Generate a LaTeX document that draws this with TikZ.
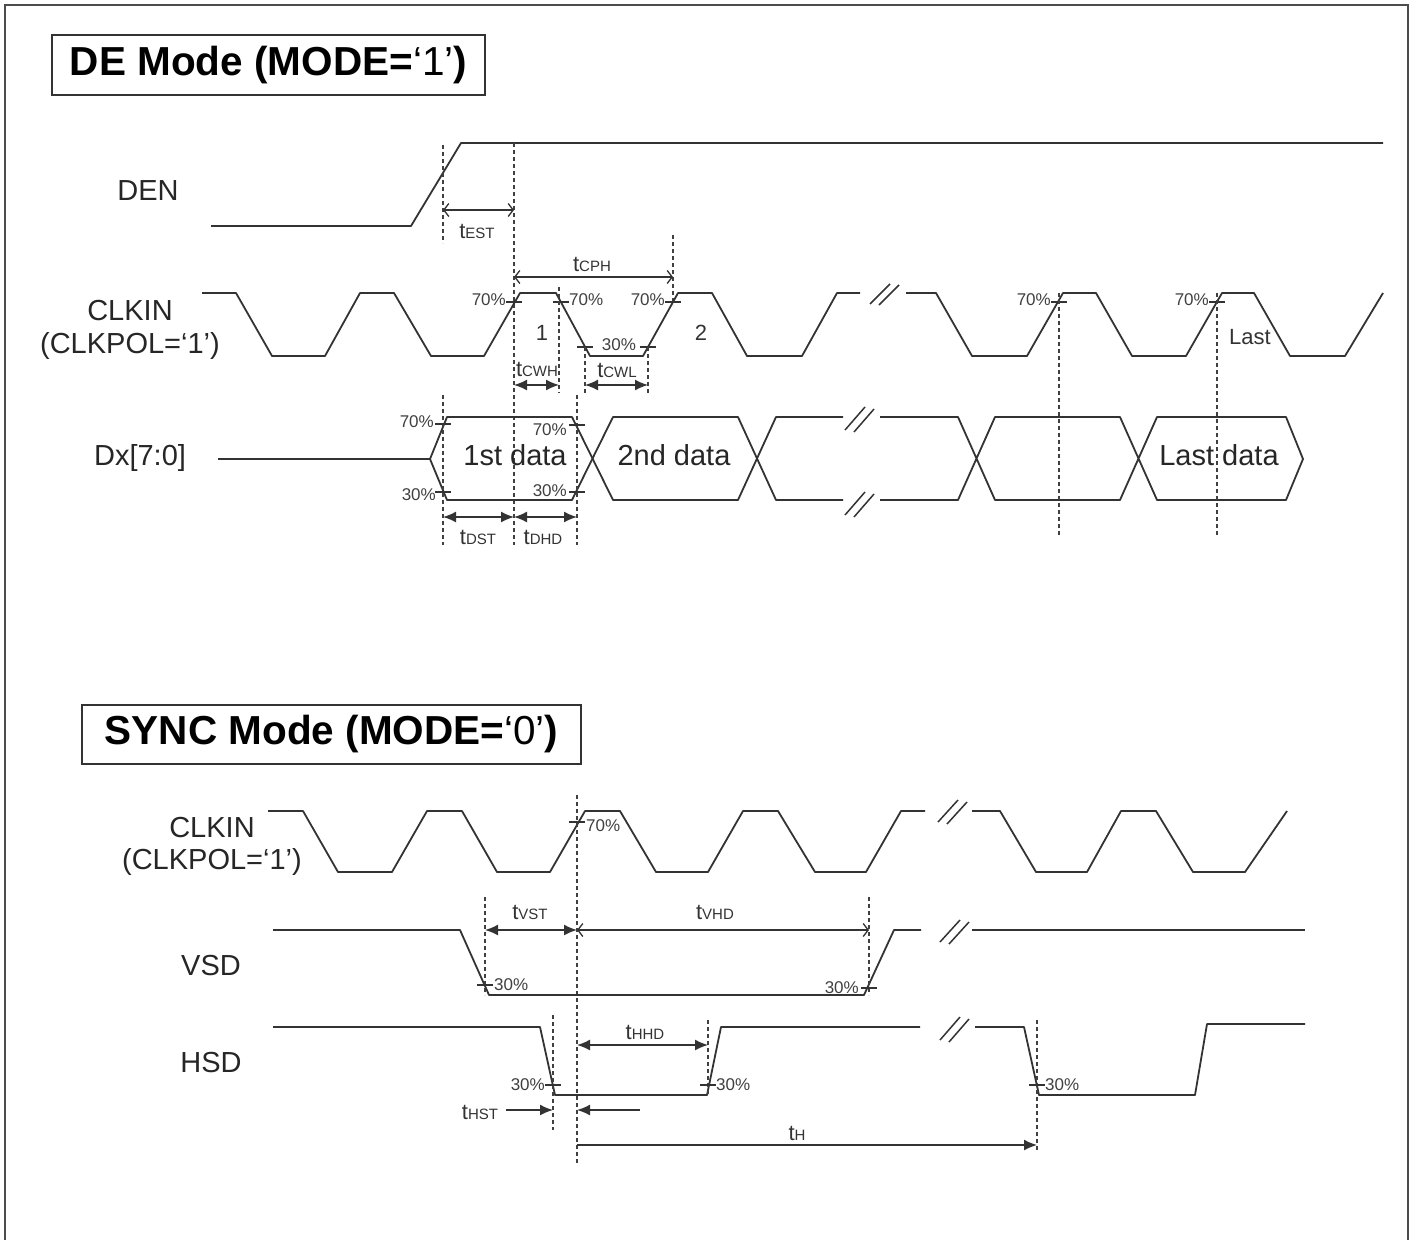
\documentclass[tikz,border=0pt]{standalone}
\usepackage{fontspec}
\setmainfont{Liberation Sans}
\usetikzlibrary{arrows.meta}
\newcommand\tsub[1]{t{\fontsize{15}{18}\selectfont #1}}
\begin{document}
\begin{tikzpicture}[x=1pt,y=-1pt,
  sig/.style={line width=1.8pt, draw=black!80, line join=round},
  guide/.style={line width=1.3pt, draw=black!75, dash pattern=on 4pt off 3pt},
  tickm/.style={line width=1.2pt, draw=black!80},
  fdim/.style={line width=1.5pt, draw=black!80, {Latex[length=13pt,width=11pt]}-{Latex[length=13pt,width=11pt]}},
  odim/.style={line width=1.3pt, draw=black!80, {Straight Barb[length=5pt,width=13pt]}-{Straight Barb[length=5pt,width=13pt]}},
  harr/.style={line width=1.5pt, draw=black!80, -{Latex[length=13pt,width=11pt]}},
  lbl/.style={font=\fontsize{29}{34}\selectfont, text=black!85, inner sep=0pt},
  pct/.style={font=\fontsize{17}{20}\selectfont, text=black!75, inner sep=0pt},
  tlbl/.style={font=\fontsize{22}{26}\selectfont, text=black!80, inner sep=0pt},
  brk/.style={line width=1.5pt, draw=black!80},
  ttl/.style={draw=black!80, line width=1.8pt, font=\bfseries\fontsize{40.5}{46}\selectfont, text=black, inner sep=0pt}
]
\useasboundingbox (0,0) rectangle (1412,1239);
\draw[line width=2pt, black!70] (5,1260) -- (5,5) -- (1408,5) -- (1408,1260);

% ---------------- titles
\node[ttl, minimum width=433pt, minimum height=60pt] (title1) at (268.5,65) {DE Mode (MODE=\mdseries‘1’\bfseries)};
\node[ttl, minimum width=499pt, minimum height=59pt] (title2) at (331.5,734.5) {SYNC Mode (MODE=\mdseries‘0’\bfseries)};

% ---------------- DE mode labels
\node[lbl] (den) at (148,191) {DEN};
\node[lbl] (clk1a) at (130,311) {CLKIN};
\node[lbl] (clk1b) at (130,346) {(CLKPOL=‘1’)};
\node[lbl] (dx) at (140,458) {Dx[7:0]};

% DEN
\draw[sig] (211,226) -- (411,226) -- (461,143) -- (1383,143);
\draw[guide] (443,145) -- (443,243);
\draw[guide] (514,143) -- (514,545);
\draw[odim] (443,210) -- (514,210);
\node[tlbl] (test) at (477,231) {\tsub{EST}};

% tCPH
\draw[guide] (673,235) -- (673,305);
\draw[odim] (514,277) -- (673,277);
\node[tlbl] (tcph) at (592,264) {\tsub{CPH}};

% CLKIN DE
\draw[sig] (202,293) -- (236,293) -- (272,356) -- (325,356) -- (360,293) -- (394,293) -- (431,356) -- (484,356) -- (520,293) -- (556,293) -- (590,356) -- (643,356) -- (678,293) -- (712,293) -- (747,356) -- (802,356) -- (837,293) -- (860,293);
\draw[sig] (906,293) -- (936,293) -- (972,356) -- (1027,356) -- (1063,293) -- (1096,293) -- (1132,356) -- (1186,356) -- (1222,293) -- (1254,293) -- (1290,356) -- (1345,356) -- (1383,293);
\draw[brk] (870,304) -- (890,284) (879,305) -- (899,285);
\foreach \px/\py in {514/302, 561/302, 673/302, 585/347, 648/347, 1059/302, 1217/302}
  \draw[tickm] (\px-8,\py) -- (\px+8,\py);
\node[pct, anchor=east] (p1) at (506,300) {70\%};
\node[pct, anchor=west] (p2) at (569,300) {70\%};
\node[pct, anchor=east] (p3) at (665,300) {70\%};
\node[pct] (p4) at (619,345) {30\%};
\node[pct, anchor=east] (p5) at (1051,300) {70\%};
\node[pct, anchor=east] (p6) at (1209,300) {70\%};
\node[tlbl] (n1) at (542,333) {1};
\node[tlbl] (n2) at (701,333) {2};
\node[tlbl] (nlast) at (1250,337) {Last};

% tCWH / tCWL
\draw[guide] (559,287) -- (559,393);
\draw[guide] (585,347) -- (585,393);
\draw[guide] (648,347) -- (648,393);
\draw[fdim] (514,385) -- (559,385);
\draw[fdim] (585,385) -- (648,385);
\node[tlbl] (tcwh) at (537,369) {\tsub{CWH}};
\node[tlbl] (tcwl) at (617,370) {\tsub{CWL}};

% Dx
\draw[sig] (218,459) -- (430,459);
\draw[sig] (430,459) -- (447,417) -- (572,417) -- (613,500) -- (738,500) -- (776,417) -- (843,417);
\draw[sig] (880,417) -- (958,417) -- (995,500) -- (1120,500) -- (1157,417) -- (1286,417) -- (1303,459) -- (1286,500) -- (1157,500) -- (1120,417) -- (995,417) -- (958,500) -- (880,500);
\draw[sig] (843,500) -- (776,500) -- (738,417) -- (613,417) -- (572,500) -- (447,500) -- (430,459);
\draw[brk] (845,430) -- (865,407) (854,432) -- (874,409);
\draw[brk] (845,515) -- (865,492) (854,517) -- (874,494);
\node[lbl] (d1) at (515,455) {1st data};
\node[lbl] (d2) at (674,455) {2nd data};
\node[lbl] (dl) at (1219,455) {Last data};
\draw[guide] (443,395) -- (443,545);
\draw[guide] (577,395) -- (577,545);
\draw[guide] (1059,293) -- (1059,537);
\draw[guide] (1217,293) -- (1217,537);
\foreach \px/\py in {443/424, 443/492, 577/425, 577/492}
  \draw[tickm] (\px-8,\py) -- (\px+8,\py);
\node[pct, anchor=east] (q1) at (434,422) {70\%};
\node[pct, anchor=east] (q2) at (436,495) {30\%};
\node[pct, anchor=east] (q3) at (567,430) {70\%};
\node[pct, anchor=east] (q4) at (567,491) {30\%};
\draw[fdim] (443,517) -- (514,517);
\draw[fdim] (514,517) -- (577,517);
\node[tlbl] (tdst) at (478,537) {\tsub{DST}};
\node[tlbl] (tdhd) at (543,537) {\tsub{DHD}};

% ---------------- SYNC mode
\node[lbl] (clk2a) at (212,828) {CLKIN};
\node[lbl] (clk2b) at (212,862) {(CLKPOL=‘1’)};
\node[lbl] (vsd) at (211,966) {VSD};
\node[lbl] (hsd) at (211,1063) {HSD};

\draw[sig] (268,811) -- (303,811) -- (338,872) -- (392,872) -- (427,811) -- (462,811) -- (497,872) -- (550,872) -- (585,811) -- (620,811) -- (656,872) -- (708,872) -- (743,811) -- (778,811) -- (815,872) -- (866,872) -- (901,811) -- (925,811);
\draw[sig] (972,811) -- (1000,811) -- (1036,872) -- (1087,872) -- (1121,811) -- (1156,811) -- (1193,872) -- (1245,872) -- (1287,811);
\draw[brk] (938,822) -- (958,800) (947,824) -- (967,802);
\draw[guide] (577,795) -- (577,1165);
\draw[tickm] (569,822) -- (585,822);
\node[pct, anchor=west] (s70) at (586,826) {70\%};

% VSD
\draw[sig] (273,930) -- (460,930) -- (489,995) -- (864,995) -- (894,930) -- (921,930);
\draw[sig] (972,930) -- (1305,930);
\draw[brk] (940,942) -- (960,920) (949,944) -- (969,922);
\draw[guide] (485,897) -- (485,995);
\draw[guide] (869,897) -- (869,995);
\draw[tickm] (477,985) -- (493,985);
\draw[tickm] (861,988) -- (877,988);
\node[pct, anchor=west] (v1) at (494,985) {30\%};
\node[pct, anchor=east] (v2) at (859,988) {30\%};
\draw[fdim] (485,930) -- (577,930);
\draw[odim] (577,930) -- (869,930);
\node[tlbl] (tvst) at (530,912) {\tsub{VST}};
\node[tlbl] (tvhd) at (715,912) {\tsub{VHD}};

% HSD
\draw[sig] (273,1027) -- (540,1027) -- (555,1095) -- (707,1095) -- (721,1027) -- (920,1027);
\draw[sig] (975,1027) -- (1024,1027) -- (1039,1095) -- (1195,1095) -- (1207,1024) -- (1305,1024);
\draw[brk] (940,1040) -- (960,1017) (949,1042) -- (969,1019);
\draw[guide] (553,1015) -- (553,1130);
\draw[guide] (708,1020) -- (708,1095);
\draw[guide] (1037,1020) -- (1037,1150);
\draw[tickm] (545,1085) -- (561,1085);
\draw[tickm] (700,1085) -- (716,1085);
\draw[tickm] (1029,1085) -- (1045,1085);
\node[pct, anchor=east] (h1) at (545,1085) {30\%};
\node[pct, anchor=west] (h2) at (716,1085) {30\%};
\node[pct, anchor=west] (h3) at (1045,1085) {30\%};
\draw[fdim] (577,1045) -- (708,1045);
\node[tlbl] (thhd) at (645,1032) {\tsub{HHD}};
\node[tlbl] (thst) at (480,1112) {\tsub{HST}};
\draw[harr] (506,1110) -- (553,1110);
\draw[harr] (640,1110) -- (577,1110);
\draw[harr] (577,1145) -- (1037,1145);
\node[tlbl] (th) at (797,1133) {\tsub{H}};
\end{tikzpicture}
\end{document}
